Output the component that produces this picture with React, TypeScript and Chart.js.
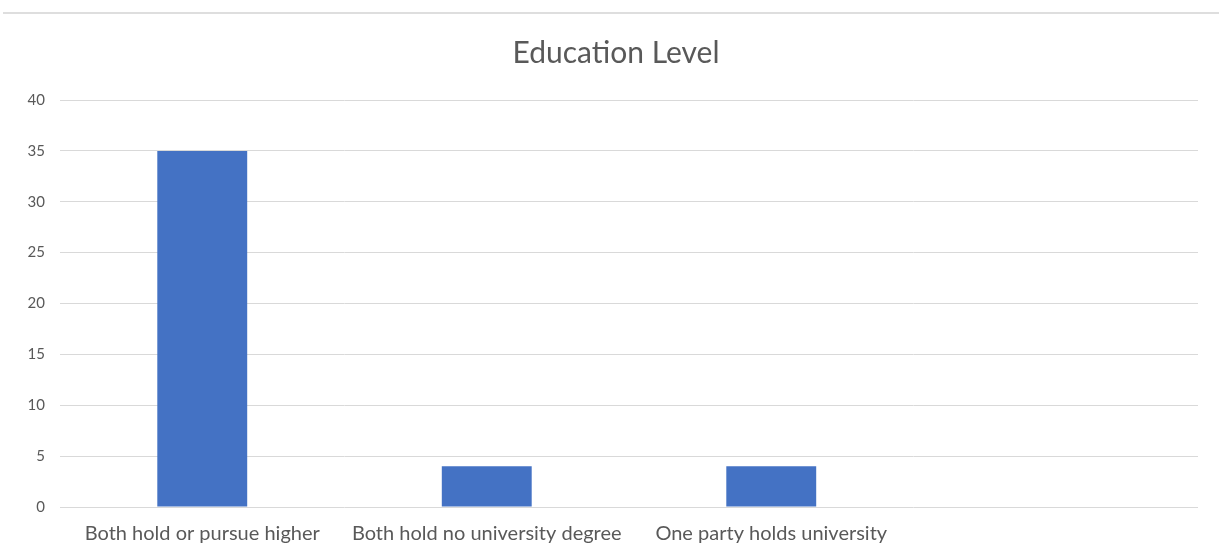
import React, { useEffect, useRef } from "react";
import { Chart, registerables } from "chart.js";

Chart.register(...registerables);

const categories: (string | string[])[] = [
  ["Both hold or pursue higher", "education"],
  ["Both hold no university degree"],
  ["One party holds university", "degree"],
  [""],
];
const counts: (number | null)[] = [35, 4, 4, null];
const yTicks = [0, 5, 10, 15, 20, 25, 30, 35, 40];
const chartTitle = "Education Level";

const FONT = "Lato, 'Open Sans', sans-serif";
const TEXT = "#595959";
const GRID = "#d9d9d9";

const decorations = {
  id: "decorations",
  beforeDraw(chart: any) {
    const ctx = chart.ctx;
    ctx.save();
    ctx.fillStyle = "#dedede";
    ctx.fillRect(3, 12, chart.width - 3, 2);
    ctx.restore();
  },
  afterDraw(chart: any) {
    const ctx = chart.ctx;
    ctx.save();
    ctx.fillStyle = TEXT;
    ctx.font = `normal 30px ${FONT}`;
    ctx.textAlign = "center";
    ctx.textBaseline = "alphabetic";
    ctx.fillText(chartTitle, 616, 63);
    ctx.restore();
  },
};

export default function App() {
  const ref = useRef<HTMLCanvasElement | null>(null);
  useEffect(() => {
    if (!ref.current) return;
    const chart = new Chart(ref.current, {
      type: "bar",
      data: {
        labels: categories,
        datasets: [
          {
            data: counts,
            backgroundColor: "#4472C4",
            borderWidth: 0,
            barPercentage: 0.316,
            categoryPercentage: 1,
          },
        ],
      },
      plugins: [decorations],
      options: {
        animation: false,
        responsive: true,
        maintainAspectRatio: false,
        layout: { padding: { left: 0, right: 21, top: 100, bottom: 0 } },
        plugins: {
          legend: { display: false },
          tooltip: { enabled: false },
          title: { display: false },
        },
        scales: {
          x: {
            grid: { display: false, drawTicks: false },
            border: { display: false },
            ticks: {
              color: TEXT,
              font: { family: FONT, size: 20 },
              padding: 15,
              autoSkip: false,
              maxRotation: 0,
              minRotation: 0,
            },
            afterFit(scale: any) {
              scale.height = 36;
            },
          },
          y: {
            min: 0,
            max: 40,
            afterBuildTicks(scale: any) {
              scale.ticks = yTicks.map((v) => ({ value: v }));
            },
            grid: { color: GRID, lineWidth: 1, drawTicks: false },
            border: { display: false },
            ticks: {
              color: TEXT,
              font: { family: FONT, size: 15 },
              padding: 15,
            },
            afterFit(scale: any) {
              scale.width = 60;
            },
          },
        },
      },
    });
    return () => chart.destroy();
  }, []);
  return (
    <div
      style={{
        position: "fixed",
        left: 0,
        top: 0,
        width: 1219,
        height: 543,
        background: "#fff",
      }}
    >
      <canvas ref={ref} />
    </div>
  );
}
